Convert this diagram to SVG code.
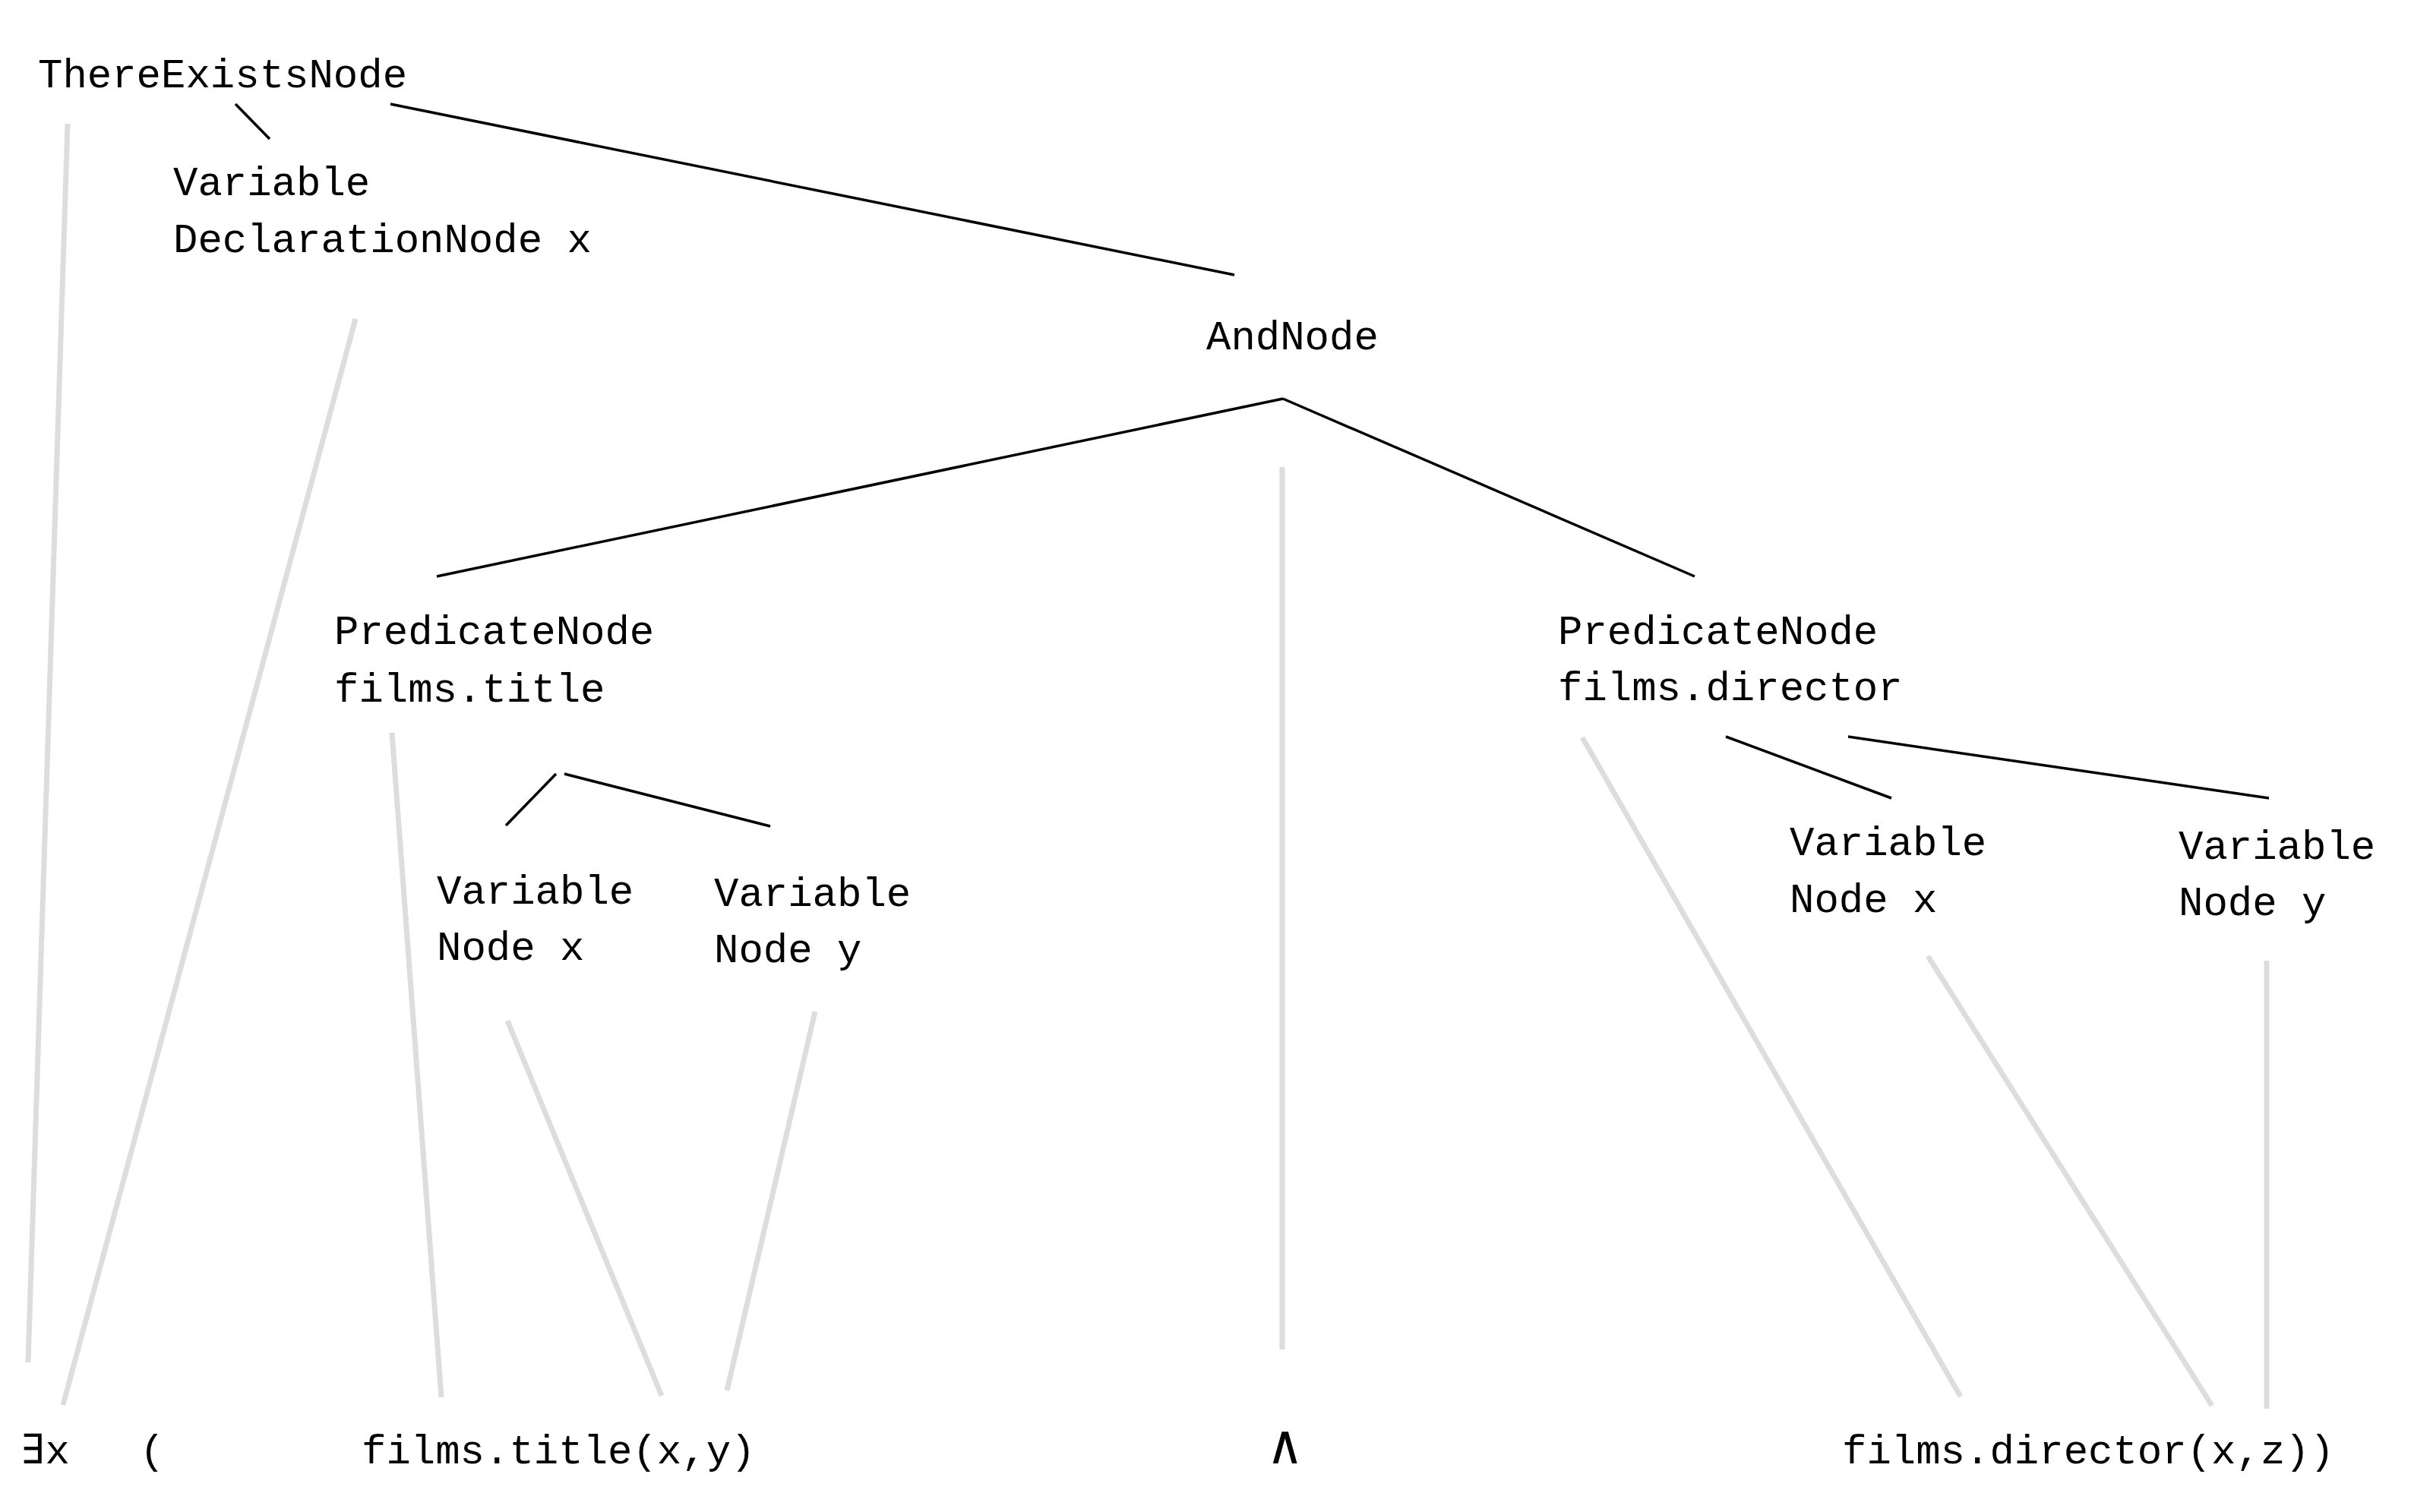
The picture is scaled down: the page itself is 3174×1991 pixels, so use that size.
<svg xmlns="http://www.w3.org/2000/svg" width="3174" height="1991" viewBox="0 0 3174 1991">
<style>
text{font-family:"Liberation Mono","DejaVu Sans Mono",monospace;font-size:54px;fill:#000}
.e{stroke:#000;stroke-width:3.5;fill:none}
.g{stroke:#dddddd;stroke-width:7;fill:none}
</style>
<rect width="3174" height="1991" fill="#fff"/>
<g id="connectors">
<line class="e" x1="310" y1="137" x2="355" y2="183"/>
<line class="e" x1="514" y1="137" x2="1625" y2="362"/>
<line class="e" x1="1689" y1="525" x2="575" y2="759"/>
<line class="e" x1="1689" y1="525" x2="2231" y2="759"/>
<line class="e" x1="732" y1="1019" x2="666" y2="1087"/>
<line class="e" x1="743" y1="1019" x2="1014" y2="1088"/>
<line class="e" x1="2272" y1="970" x2="2490" y2="1051"/>
<line class="e" x1="2433" y1="970" x2="2987" y2="1051"/>
<line class="g" x1="89" y1="163" x2="37" y2="1794"/>
<line class="g" x1="468" y1="420" x2="83" y2="1850"/>
<line class="g" x1="516" y1="965" x2="581" y2="1840"/>
<line class="g" x1="668" y1="1344" x2="871" y2="1838"/>
<line class="g" x1="1073" y1="1332" x2="957" y2="1831"/>
<line class="g" x1="1688" y1="615" x2="1688" y2="1777"/>
<line class="g" x1="2083" y1="971" x2="2581" y2="1839"/>
<line class="g" x1="2538" y1="1259" x2="2912" y2="1851"/>
<line class="g" x1="2984" y1="1265" x2="2984" y2="1855"/>
</g>
<g id="n-thereexists"><text x="50" y="115">ThereExistsNode</text></g>
<g id="n-vardecl"><text x="228" y="257">Variable</text><text x="228" y="332">DeclarationNode x</text></g>
<g id="n-and"><text x="1588" y="460">AndNode</text></g>
<g id="n-pred-title"><text x="440" y="848">PredicateNode</text><text x="440" y="924">films.title</text></g>
<g id="n-var-x1"><text x="575" y="1190">Variable</text><text x="575" y="1264">Node x</text></g>
<g id="n-var-y1"><text x="940" y="1193">Variable</text><text x="940" y="1267">Node y</text></g>
<g id="n-pred-director"><text x="2051" y="848">PredicateNode</text><text x="2051" y="922">films.director</text></g>
<g id="n-var-x2"><text x="2356" y="1126">Variable</text><text x="2356" y="1201">Node x</text></g>
<g id="n-var-y2"><text x="2868" y="1131">Variable</text><text x="2868" y="1205">Node y</text></g>
<g id="formula">
<text x="27" y="1927">∃x</text>
<text x="184" y="1927">(</text>
<text x="476" y="1927">films.title(x,y)</text>
<text x="1670" y="1927" style="font-size:72px">∧</text>
<text x="2425" y="1927">films.director(x,z))</text>
</g>
</svg>
